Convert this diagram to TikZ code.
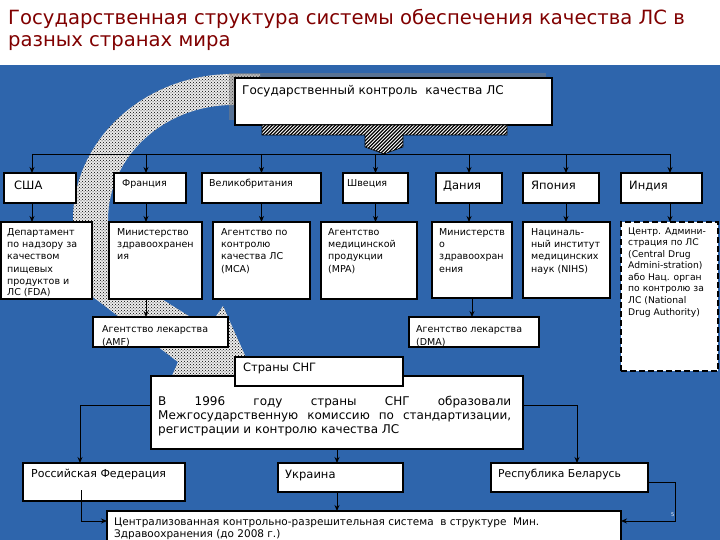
\documentclass[tikz,border=0pt]{standalone}
\usepackage{fontspec}
\setmainfont{DejaVu Sans}
\usetikzlibrary{arrows.meta,patterns,calc}
\definecolor{bgblue}{RGB}{46,101,172}
\definecolor{titlered}{RGB}{128,0,0}
\newcommand\mlines[1]{\begin{tabular}[t]{@{}l@{}}#1\end{tabular}}
\begin{document}
\begin{tikzpicture}[x=1pt,y=-1pt,
  box/.style={draw=black,line width=1.6pt,fill=white,inner sep=0pt,outer sep=0pt,anchor=north west},
  t/.style={anchor=base west,inner sep=0pt,text=black},
  ttl/.style={anchor=base west,inner sep=0pt,text=titlered,font=\fontsize{19.6}{23}\selectfont},
  small/.style={font=\fontsize{9.5}{12}\selectfont},
  big/.style={font=\fontsize{11.5}{14}\selectfont},
  conn/.style={draw=black,line width=0.9pt},
  arr/.style={draw=black,line width=0.9pt,-{Stealth[length=6pt,width=5pt]}}]
\useasboundingbox (0,0) rectangle (720,540);
\fill[bgblue] (0,65) rectangle (720,540);
% title
\node[ttl] (title1) at (8,25) {Государственная структура системы обеспечения качества ЛС в};
\node[ttl] (title2) at (8,47) {разных странах мира};
% curved dotted arrow
\path[preaction={fill=gray!15},pattern=crosshatch dots,pattern color=black]
  (260,74) -- (233,74) .. controls (144.7,74) and (73,139.4) .. (73,220)
  -- (73,262) .. controls (73,282) and (82,290) .. (97,300)
  -- (178,362) -- (165,392) -- (256,380) -- (223,306) -- (208,328)
  -- (160,298) .. controls (125,280) and (108,265) .. (108,240)
  -- (108,220) .. controls (108,156.5) and (164,105) .. (233,105)
  -- (260,105) -- cycle;
% shadow of top box
\fill[gray,opacity=0.5] (229,73) rectangle (546,120);
\node[box,minimum width=317pt,minimum height=47pt] (top) at (235,78) {};
\node[t,font=\fontsize{12}{14}\selectfont] (toptxt) at (242,95) {Государственный контроль~ качества ЛС};
% hatched connector
\begin{scope}
\clip (262,125) -- (507,125) -- (507,135) -- (403,135) -- (403,147) -- (384,154)
  -- (365,147) -- (365,135) -- (262,135) -- cycle;
\fill[white] (250,120) rectangle (520,160);
\foreach \i in {220,223.5,...,520} \draw[line width=1.2pt] (\i,160) -- ++(40,-40);
\end{scope}
\draw[line width=0.6pt]
  (262,125) -- (507,125) -- (507,135) -- (403,135) -- (403,147) -- (384,154)
  -- (365,147) -- (365,135) -- (262,135) -- cycle;
% country boxes
\node[box,minimum width=72pt,minimum height=30pt] (usa) at (4,173) {};
\node[box,minimum width=72pt,minimum height=30pt] (fra) at (114,173) {};
\node[box,minimum width=119pt,minimum height=30pt] (gb) at (202,173) {};
\node[box,minimum width=65pt,minimum height=30pt] (swe) at (343,173) {};
\node[box,minimum width=66pt,minimum height=30pt] (den) at (436,173) {};
\node[box,minimum width=76pt,minimum height=30pt] (jap) at (523,173) {};
\node[box,minimum width=81pt,minimum height=30pt] (ind) at (621,173) {};
% distribution line
\coordinate (hl) at (32,154);
\coordinate (hr) at (670,154);
\draw[conn] (hl) -- (hr);
\draw[arr] (hl) -- (hl |- usa.north);
\draw[arr] ([xshift=-4pt]fra.north |- hl) -- ([xshift=-4pt]fra.north);
\draw[arr] (gb.north |- hl) -- (gb.north);
\draw[arr] (swe.north |- hl) -- (swe.north);
\draw[arr] (den.north |- hl) -- (den.north);
\draw[arr] ([xshift=5pt]jap.north |- hl) -- ([xshift=5pt]jap.north);
\draw[arr] (hr) -- (hr |- ind.north);
% agency boxes
\node[box,minimum width=91pt,minimum height=77pt] (fda) at (1,222) {};
\node[box,minimum width=93pt,minimum height=77pt] (fmin) at (109,222) {};
\node[box,minimum width=97pt,minimum height=77pt] (mca) at (213,222) {};
\node[box,minimum width=96pt,minimum height=77pt] (mpa) at (321,222) {};
\node[box,minimum width=80pt,minimum height=76pt] (dmin) at (432,222) {};
\node[box,minimum width=87pt,minimum height=76pt] (nihs) at (523,222) {};
\node[box,dash pattern=on 6pt off 3pt,minimum width=97pt,minimum height=149pt] (cdsco) at (621,222) {};
\draw[arr] ([xshift=-8pt]usa.south) -- ([xshift=-8pt]usa.south |- fda.north);
\draw[arr] ([xshift=-4pt]fra.south) -- ([xshift=-4pt]fra.south |- fmin.north);
\draw[arr] (gb.south) -- (gb.south |- mca.north);
\draw[arr] (swe.south) -- (swe.south |- mpa.north);
\draw[arr] (den.south) -- (den.south |- dmin.north);
\draw[arr] ([xshift=5pt]jap.south) -- ([xshift=5pt]jap.south |- nihs.north);
\draw[arr] ([xshift=8.5pt]ind.south) -- ([xshift=8.5pt]ind.south |- cdsco.north);
% drug agencies
\node[box,minimum width=135pt,minimum height=30pt] (amf) at (93,317) {};
\node[box,minimum width=130pt,minimum height=30pt] (dma) at (409,317) {};
\draw[arr] ([xshift=-9.5pt]fmin.south) -- ([xshift=-9.5pt]fmin.south |- amf.north);
\draw[arr] (dmin.south) -- (dmin.south |- dma.north);
% texts, first rows
\node[t,big] (usatxt) at (14,190) {США};
\node[t,small] (fratxt) at (122,187) {Франция};
\node[t,small] (gbtxt) at (209,187) {Великобритания};
\node[t,small] (swetxt) at (347,187) {Швеция};
\node[t,big] (dentxt) at (443,190) {Дания};
\node[t,big] (japtxt) at (531,190) {Япония};
\node[t,big] (indtxt) at (629,190) {Индия};
\node[t,small] (fdatxt) at (7,236) {\mlines{Департамент\\по надзору за\\качеством\\пищевых\\продуктов и\\ЛС (FDA)}};
\node[t,small] (fmintxt) at (117,236) {\mlines{Министерство\\здравоохранен\\ия}};
\node[t,small] (mcatxt) at (221,236) {\mlines{Агентство по\\контролю\\качества ЛС\\(MCA)}};
\node[t,small] (mpatxt) at (328,236) {\mlines{Агентство\\медицинской\\продукции\\(MPA)}};
\node[t,small] (dmintxt) at (439,236) {\mlines{Министерств\\о\\здравоохран\\ения}};
\node[t,small] (nihstxt) at (531,236) {\mlines{Нациналь-\\ный институт\\медицинских\\наук (NIHS)}};
\node[t,font=\fontsize{9.2}{11.6}\selectfont] (cdscotxt) at (628,234) {\mlines{Центр. Админи-\\страция по ЛС\\(Central Drug\\Admini-stration)\\або Нац. орган\\по контролю за\\ЛС (National\\Drug Authority)}};
\node[t,font=\fontsize{9.5}{13}\selectfont] (amftxt) at (102,332) {\mlines{Агентство лекарства\\(AMF)}};
\node[t,font=\fontsize{9.5}{13}\selectfont] (dmatxt) at (416,332) {\mlines{Агентство лекарства\\(DMA)}};
% CIS part
\node[box,minimum width=372pt,minimum height=73pt] (cisbig) at (151,376) {};
\node[box,minimum width=168pt,minimum height=29pt] (cis) at (235,357) {};
\node[t,big] (cistxt) at (243,371) {Страны СНГ};
\node[t] (cisbigtxt) at (158,405) {\parbox[t]{353pt}{\fontsize{12}{14}\selectfont\hyphenpenalty=10000 В 1996 году страны СНГ образовали\linebreak Межгосударственную комиссию по стандартизации,\linebreak регистрации и контролю качества ЛС}};
\node[box,minimum width=162pt,minimum height=38pt] (rf) at (23,463) {};
\node[box,minimum width=125pt,minimum height=29pt] (ukr) at (278,463) {};
\node[box,minimum width=157pt,minimum height=29pt] (bel) at (491,463) {};
\node[box,minimum width=514pt,minimum height=50pt] (central) at (107,511) {};
\node[t,font=\fontsize{11}{14}\selectfont] (rftxt) at (31,477) {Российская Федерация};
\node[t,big] (ukrtxt) at (285,478) {Украина};
\node[t,font=\fontsize{10.8}{14}\selectfont] (beltxt) at (498,477) {Республика Беларусь};
\node[t,font=\fontsize{10.5}{12}\selectfont] (centraltxt) at (114,525) {\mlines{Централизованная контрольно-разрешительная система~ в структуре~ Мин.\\Здравоохранения (до 2008 г.)}};
\draw[arr] ([yshift=-29pt]cisbig.north west) -| ([xshift=-24pt]rf.north);
\draw[arr] ([yshift=-29pt]cisbig.north east) -| ([xshift=7.5pt]bel.north);
\draw[arr] ([xshift=-3.5pt]ukr.north |- cisbig.south) -- ([xshift=-3.5pt]ukr.north);
\draw[arr] ([xshift=-3.5pt]ukr.south) -- ([xshift=-3.5pt]ukr.south |- central.north);
\draw[arr] ([xshift=-23pt,yshift=11pt]rf.south) |- ([yshift=-10pt]central.north west);
\draw[arr] ([yshift=-19pt]bel.north east) -- ++(27,0) |- ([yshift=-10pt]central.north east);
\node[t,text=white,font=\fontsize{5}{6}\selectfont] (slideno) at (671,516) {5};
\end{tikzpicture}
\end{document}
